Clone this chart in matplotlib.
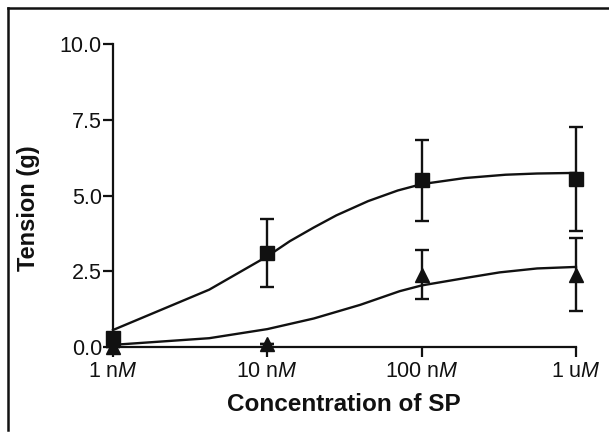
import matplotlib
matplotlib.use("Agg")
import matplotlib.pyplot as plt
from matplotlib.lines import Line2D

plt.rcParams['font.family'] = ['Liberation Sans', 'DejaVu Sans']
plt.rcParams['mathtext.fontset'] = 'custom'
plt.rcParams['mathtext.rm'] = 'Liberation Sans'
plt.rcParams['mathtext.it'] = 'Liberation Sans:italic'

# concentrations of SP (M)
conc = [1e-9, 1e-8, 1e-7, 1e-6]
tick_labels = ['1 n$\\mathit{M}$', '10 n$\\mathit{M}$', '100 n$\\mathit{M}$', '1 u$\\mathit{M}$']

# squares
sq_mean = [0.3, 3.1, 5.5, 5.55]
sq_err = [0.0, 1.12, 1.34, 1.7]
# triangles
tri_mean = [0.0, 0.12, 2.4, 2.4]
tri_err = [0.0, 0.0, 0.81, 1.19]

# fitted curves
fit_x_sq = [1e-9, 4.2e-9, 1e-8, 1.4e-8, 2e-8, 2.8e-8, 4.5e-8, 7e-8, 1e-7, 1.9e-7, 3.5e-7, 5.6e-7, 1e-6]
fit_y_sq = [0.57, 1.9, 3.0, 3.5, 3.95, 4.35, 4.82, 5.17, 5.38, 5.58, 5.69, 5.73, 5.75]
fit_x_tri = [1e-9, 4.2e-9, 1e-8, 2e-8, 4e-8, 7.2e-8, 1e-7, 2e-7, 3.2e-7, 5.6e-7, 1e-6]
fit_y_tri = [0.08, 0.3, 0.6, 0.95, 1.4, 1.85, 2.04, 2.3, 2.47, 2.6, 2.65]

k = '#111111'
fig = plt.figure(figsize=(6.09, 4.37), dpi=100)
ax = fig.add_axes([113/609, 1 - 347.3/437, (576 - 113)/609, (347.3 - 44)/437])

ax.plot(fit_x_sq, fit_y_sq, color=k, lw=1.7, clip_on=False)
ax.plot(fit_x_tri, fit_y_tri, color=k, lw=1.7, clip_on=False)

ax.errorbar(conc, sq_mean, yerr=sq_err, fmt='s', color=k, ms=9.5, capsize=5,
            elinewidth=1.7, capthick=1.7, clip_on=False, zorder=5)
ax.errorbar(conc, tri_mean, yerr=tri_err, fmt='^', color=k, ms=9.5, capsize=5,
            elinewidth=1.7, capthick=1.7, clip_on=False, zorder=5)

ax.set_xscale('log')
ax.set_xlim(1e-9, 1e-6)
ax.set_ylim(0, 10)
ax.set_xticks(conc)
ax.set_xticklabels(tick_labels)
ax.xaxis.set_minor_locator(matplotlib.ticker.NullLocator())
ax.set_yticks([0, 2.5, 5, 7.5, 10])
ax.set_yticklabels(['0.0', '2.5', '5.0', '7.5', '10.0'])

for s in ['top', 'right']:
    ax.spines[s].set_visible(False)
for s in ['left', 'bottom']:
    ax.spines[s].set_linewidth(1.6)
    ax.spines[s].set_color(k)
ax.tick_params(axis='both', length=7, width=1.6, color=k, labelsize=15.5, labelcolor=k)
ax.tick_params(axis='y', pad=1)
ax.tick_params(axis='x', pad=3)

fig.text(29/609, 1 - 208/437, 'Tension (g)', rotation=90, ha='center', va='center',
         fontsize=17, fontweight='bold', color=k)
fig.text(343.5/609, 1 - 410.7/437, 'Concentration of SP', ha='center', va='baseline',
         fontsize=17.5, fontweight='bold', color=k)

# frame lines (top and left only)
fig.add_artist(Line2D([8/609, 1], [1 - 7.5/437, 1 - 7.5/437], color=k, lw=1.8))
fig.add_artist(Line2D([8/609, 8/609], [1 - 7.5/437, 1 - 430/437], color=k, lw=1.8))

fig.savefig('out.png', dpi=100)
